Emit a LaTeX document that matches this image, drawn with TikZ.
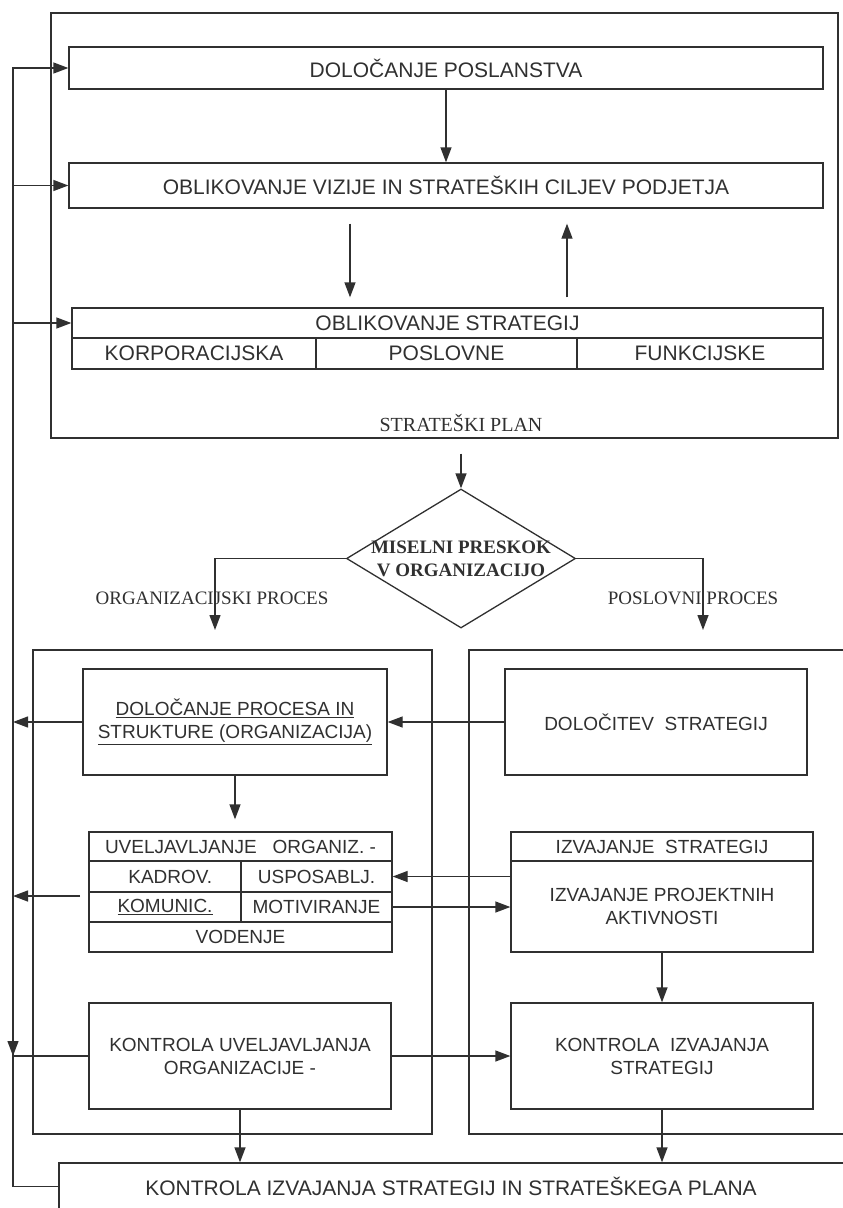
\documentclass[tikz,border=0pt]{standalone}
\usepackage{fontspec}
\setmainfont{Liberation Serif}
\setsansfont{Liberation Sans}
\usetikzlibrary{arrows.meta,shapes.geometric,calc}
\definecolor{lc}{HTML}{303030}
\begin{document}
\begin{tikzpicture}[x=1pt,y=-1pt,
  conn/.style={draw=lc, line width=1.3pt},
  box/.style={draw=lc, line width=1.3pt, inner sep=0pt, align=center, text=lc, font=\sffamily\fontsize{21}{25}\selectfont},
  sbox/.style={box, font=\sffamily\fontsize{19}{23}\selectfont},
  arr/.style={draw=lc, line width=1.3pt, -{Triangle[length=15pt,width=11pt]}},
  lbl/.style={text=lc, inner sep=0pt, align=center, font=\fontsize{19}{23}\selectfont},
]
\useasboundingbox (0,0) rectangle (843,1208);

% upper block
\node[box, minimum width=787pt, minimum height=425pt] (outer) at (444.5,225.5) {};
\node[box, minimum width=754pt, minimum height=42pt] (b1) at (446,68) {DOLOČANJE POSLANSTVA};
\node[box, minimum width=754pt, minimum height=45pt] (b2) at (446,185.5) {OBLIKOVANJE VIZIJE IN STRATEŠKIH CILJEV PODJETJA};
\node[box, minimum width=751pt, minimum height=30pt] (b3) at (447.5,323) {OBLIKOVANJE STRATEGIJ};
\node[box, minimum width=244pt, minimum height=31pt] (kor) at (194,353.5) {KORPORACIJSKA};
\node[box, minimum width=261pt, minimum height=31pt] (pos) at (446.5,353.5) {POSLOVNE};
\node[box, minimum width=246pt, minimum height=31pt] (fun) at (700,353.5) {FUNKCIJSKE};
\node[lbl, font=\fontsize{20}{24}\selectfont] (plan) at (461,423) {STRATEŠKI PLAN};

% diamond
\node[draw=lc, line width=1.3pt, diamond, minimum width=229pt, minimum height=139pt, inner sep=0pt] (dia) at (461,558.5) {};
\node[lbl, font=\bfseries\fontsize{19}{23}\selectfont] (diat) at (dia.center) {MISELNI PRESKOK\\V ORGANIZACIJO};
\node[lbl] (op) at (212,598) {ORGANIZACIJSKI PROCES};
\node[lbl] (pp) at (693,598) {POSLOVNI PROCES};
\coordinate (lt) at (215,630);
\coordinate (rt) at (703,630);

% lower containers
\node[box, minimum width=399pt, minimum height=484pt] (org) at (232.5,892) {};
\node[box, minimum width=381pt, minimum height=484pt] (bus) at (659.5,892) {};

\node[sbox, minimum width=304pt, minimum height=106pt] (dp) at (235,722) {\underline{DOLOČANJE PROCESA IN}\\\underline{STRUKTURE (ORGANIZACIJA)}};
\node[sbox, minimum width=302pt, minimum height=106pt] (ds) at (656,722) {DOLOČITEV\ \ STRATEGIJ};

\node[sbox, minimum width=303pt, minimum height=29pt] (uv) at (240.5,846.5) {UVELJAVLJANJE\ \ \ ORGANIZ. -};
\node[sbox, minimum width=152pt, minimum height=31pt] (kad) at (165,876.5) {\ \ KADROV.};
\node[sbox, minimum width=151pt, minimum height=31pt] (usp) at (316.5,876.5) {USPOSABLJ.};
\node[sbox, minimum width=152pt, minimum height=30pt] (kom) at (165,907) {\underline{KOMUNIC.}};
\node[sbox, minimum width=151pt, minimum height=30pt] (mot) at (316.5,907) {MOTIVIRANJE};
\node[sbox, minimum width=303pt, minimum height=30pt] (vod) at (240.5,937) {VODENJE};

\node[sbox, minimum width=302pt, minimum height=29pt] (iz1) at (662,846.5) {IZVAJANJE\ \ STRATEGIJ};
\node[sbox, minimum width=302pt, minimum height=91pt] (iz2) at (662,906.5) {IZVAJANJE PROJEKTNIH\\AKTIVNOSTI};

\node[sbox, minimum width=302pt, minimum height=106pt] (ku) at (240,1056) {KONTROLA UVELJAVLJANJA\\ORGANIZACIJE -};
\node[sbox, minimum width=302pt, minimum height=106pt] (ki) at (662,1056) {KONTROLA\ \ IZVAJANJA\\STRATEGIJ};

\node[box, minimum width=791pt, minimum height=67pt] (bot) at (454.5,1196.5) {};
\node[inner sep=0pt, text=lc, font=\sffamily\fontsize{21}{25}\selectfont] (bott) at (451,1186) {KONTROLA IZVAJANJA STRATEGIJ IN STRATEŠKEGA PLANA};

\coordinate (fb) at (13,0);
\coordinate (tl) at (80,896);

% connectors upper
\draw[arr] (b1.south) -- (b2.north);
\draw[arr] ($(b2.south)+(-96,15)$) -- ($(b3.north)+(-97.5,-10)$);
\draw[arr] ($(b3.north)+(119.5,-10)$) -- ($(b2.south)+(121,15)$);
\draw[arr] ($(outer.south -| dia.north)+(0,15)$) -- (dia.north);
\draw[arr] (dia.west) -| (lt);
\draw[arr] (dia.east) -| (rt);

% connectors lower
\draw[arr] (ds.west) -- (ds.west -| dp.east);
\draw[arr] (dp.west) -- (dp.west -| fb);
\draw[arr] (dp.south) -- ($(dp.south |- uv.north)+(0,-12)$);
\draw[arr] (tl) -- (tl -| fb);
\draw[arr] (iz2.west |- usp.east) -- (usp.east);
\draw[arr] (mot.east) -- (mot.east -| iz2.west);
\draw[arr] (iz2.south) -- (ki.north);
\draw[arr] (ku.east) -- (ki.west);
\draw[conn] (ku.west) -- (ku.west -| fb);
\draw[arr] ($(ku.west -| fb)+(0,-22)$) -- (ku.west -| fb);
\draw[arr] (ku.south) -- (ku.south |- bot.north);
\draw[arr] (ki.south) -- (ki.south |- bot.north);

% feedback loop
\draw[arr] ($(bot.north west)+(0,24)$) -| (fb |- b1.west) -- (b1.west);
\draw[arr] (fb |- b2.west) -- (b2.west);
\draw[arr] (fb |- b3.west) -- (b3.west);
\end{tikzpicture}
\end{document}
